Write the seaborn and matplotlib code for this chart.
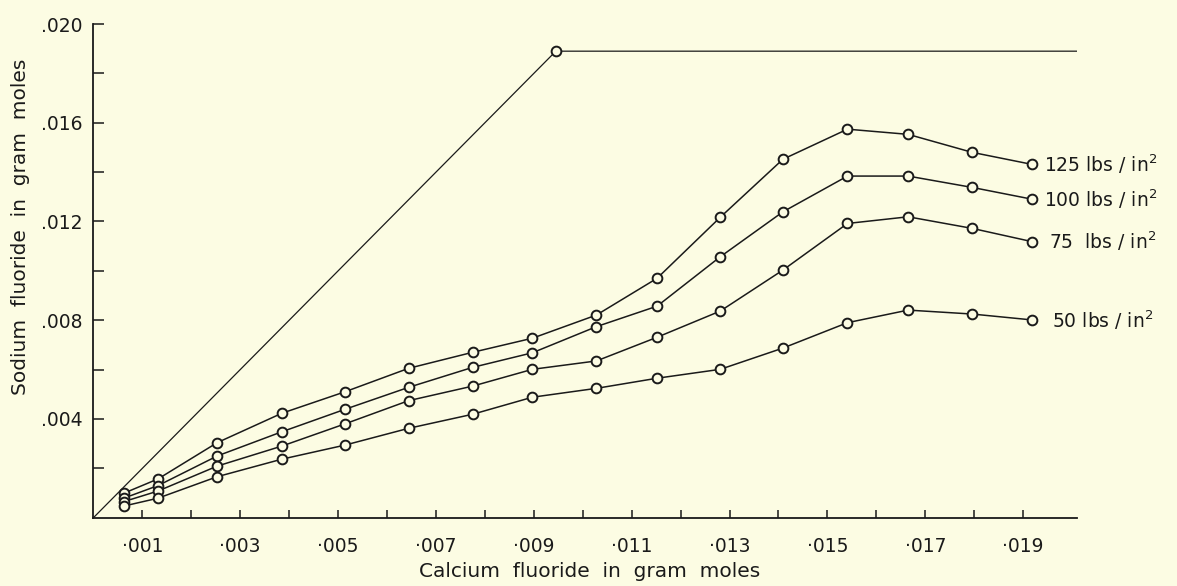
import numpy as np
import pandas as pd
import matplotlib
matplotlib.use("Agg")
import matplotlib.pyplot as plt
from matplotlib.ticker import FixedLocator, FuncFormatter
import seaborn as sns

# calcium fluoride added (gram moles), shared by all four pressure runs
ca_x = [0.00062, 0.00132, 0.00253, 0.00385, 0.00514, 0.00644, 0.00775, 0.00897,
        0.01028, 0.01152, 0.01281, 0.01409, 0.01541, 0.01665, 0.01796, 0.01919]

# sodium fluoride formed (gram moles)
naf_125 = [0.00099, 0.00157, 0.00304, 0.00423, 0.00510, 0.00605, 0.00670, 0.00727,
           0.00821, 0.00970, 0.01217, 0.01452, 0.01574, 0.01553, 0.01480, 0.01431]
naf_100 = [0.00079, 0.00130, 0.00250, 0.00348, 0.00439, 0.00528, 0.00609, 0.00668,
           0.00774, 0.00857, 0.01057, 0.01239, 0.01384, 0.01384, 0.01338, 0.01290]
naf_75 = [0.00065, 0.00108, 0.00209, 0.00290, 0.00380, 0.00474, 0.00533, 0.00601,
          0.00635, 0.00731, 0.00837, 0.01003, 0.01192, 0.01219, 0.01172, 0.01118]
naf_50 = [0.00047, 0.00079, 0.00166, 0.00237, 0.00294, 0.00362, 0.00419, 0.00488,
          0.00524, 0.00565, 0.00601, 0.00687, 0.00790, 0.00841, 0.00825, 0.00801]

series_labels = ["125 lbs / in$^2$", "100 lbs / in$^2$", "75  lbs / in$^2$", "50 lbs / in$^2$"]

# theoretical line
theo_x = [0.0, 0.00945, 0.0201]
theo_y = [0.0, 0.0189, 0.0189]
theo_peak_x = [0.00945]
theo_peak_y = [0.0189]

x_ticks = [0.001, 0.003, 0.005, 0.007, 0.009, 0.011, 0.013, 0.015, 0.017, 0.019]
x_minor = [0.002, 0.004, 0.006, 0.008, 0.010, 0.012, 0.014, 0.016, 0.018]
y_ticks = [0.004, 0.008, 0.012, 0.016, 0.020]
y_minor = [0.002, 0.006, 0.010, 0.014, 0.018]

rows = []
for lab, vals in zip(series_labels, [naf_125, naf_100, naf_75, naf_50]):
    for xv, yv in zip(ca_x, vals):
        rows.append({"ca": xv, "naf": yv, "run": lab})
df = pd.DataFrame(rows)

sns.set_style("ticks")
plt.rcParams['font.family'] = ['DejaVu Sans']
paper = "#fcfce3"
ink = "#1a1a1a"

fig = plt.figure(figsize=(11.77, 5.86), dpi=100)
fig.patch.set_facecolor(paper)
ax = fig.add_axes([0.0794, 0.1166, 0.8356, 0.8424])
ax.set_facecolor(paper)

sns.lineplot(x=theo_x, y=theo_y, ax=ax, color=ink, lw=0.9, sort=False, errorbar=None)
ax.plot(theo_peak_x, theo_peak_y, 'o', ms=7, mfc=paper, mec=ink, mew=1.4)

for lab in series_labels:
    sub = df[df["run"] == lab]
    sns.lineplot(data=sub, x="ca", y="naf", ax=ax, color=ink, lw=1.1, errorbar=None,
                 marker="o", markersize=7, markerfacecolor=paper,
                 markeredgecolor=ink, markeredgewidth=1.4)

offsets = [8, 8, 12, 14]
for lab, vals, off in zip(series_labels, [naf_125, naf_100, naf_75, naf_50], offsets):
    ax.annotate(lab, (ca_x[-1], vals[-1]), xytext=(off, 0), textcoords="offset points",
                ha="left", va="center", fontsize=13.5, color=ink, annotation_clip=False)

ax.set_xlim(0, 0.0201)
ax.set_ylim(0, 0.020)
sns.despine(ax=ax)
for s in ["left", "bottom"]:
    ax.spines[s].set_linewidth(1.3)
    ax.spines[s].set_color(ink)

ax.xaxis.set_major_locator(FixedLocator(x_ticks))
ax.xaxis.set_minor_locator(FixedLocator(x_minor))
ax.yaxis.set_major_locator(FixedLocator(y_ticks))
ax.yaxis.set_minor_locator(FixedLocator(y_minor))
ax.xaxis.set_major_formatter(FuncFormatter(lambda v, p: "\u00b7" + f"{v:.3f}"[2:]))
ax.yaxis.set_major_formatter(FuncFormatter(lambda v, p: "." + f"{v:.3f}"[2:]))

ax.tick_params(axis="x", which="both", direction="in", length=6, width=1.1,
               colors=ink, labelsize=13.5, pad=14)
ax.tick_params(axis="y", which="both", direction="in", length=8, width=1.1,
               colors=ink, labelsize=13.5, pad=8)

ax.set_xlabel("Calcium  fluoride  in  gram  moles", fontsize=14.5, color=ink)
ax.set_ylabel("Sodium  fluoride  in  gram  moles", fontsize=14.5, color=ink)
ax.xaxis.set_label_coords(0.505, -0.09)
ax.yaxis.set_label_coords(-0.065, 0.59)

fig.savefig("out.png", dpi=100, facecolor=paper)
